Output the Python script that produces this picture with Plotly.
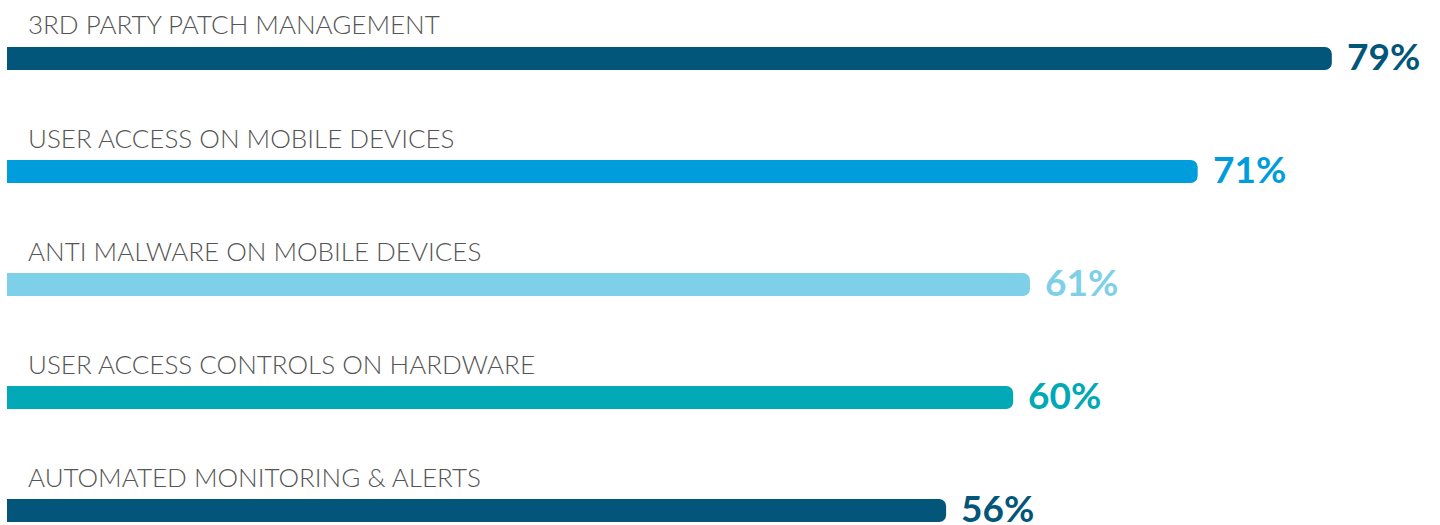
import plotly.graph_objects as go

categories = [
    "3RD PARTY PATCH MANAGEMENT",
    "USER ACCESS ON MOBILE DEVICES",
    "ANTI MALWARE ON MOBILE DEVICES",
    "USER ACCESS CONTROLS ON HARDWARE",
    "AUTOMATED MONITORING & ALERTS",
]
values = [79, 71, 61, 60, 56]
value_labels = ["79%", "71%", "61%", "60%", "56%"]
colors = ["#02567A", "#009DDC", "#7DD0E8", "#00A9B5", "#03567A"]

pos = list(range(len(categories)))

fig = go.Figure()
fig.add_trace(go.Bar(
    x=values, y=pos, orientation="h",
    marker=dict(color=colors, line=dict(width=0), cornerradius=7),
    width=0.205, hoverinfo="skip",
))

for i, (cat, v, lab, c) in enumerate(zip(categories, values, value_labels, colors)):
    fig.add_annotation(
        x=0, y=i, xref="x", yref="y", text=cat, showarrow=False,
        xanchor="left", yanchor="bottom", xshift=19, yshift=16,
        font=dict(family="Lato", size=26, color="#555555", weight=300),
    )
    fig.add_annotation(
        x=v, y=i, xref="x", yref="y", text=lab, showarrow=False,
        xanchor="left", yanchor="middle", xshift=13, yshift=3,
        font=dict(family="Lato", size=37, color=c, weight=700),
    )

s = 113.0
top = -58.5 / s
bottom = top + 525 / s
fig.update_layout(
    width=1440, height=525,
    margin=dict(l=7, r=0, t=0, b=0),
    plot_bgcolor="white", paper_bgcolor="white",
    showlegend=False,
    xaxis=dict(range=[0, 1433 / 16.77], visible=False, fixedrange=True),
    yaxis=dict(range=[bottom, top], visible=False, fixedrange=True),
)
fig.write_html("out.html", config={"displayModeBar": False})
